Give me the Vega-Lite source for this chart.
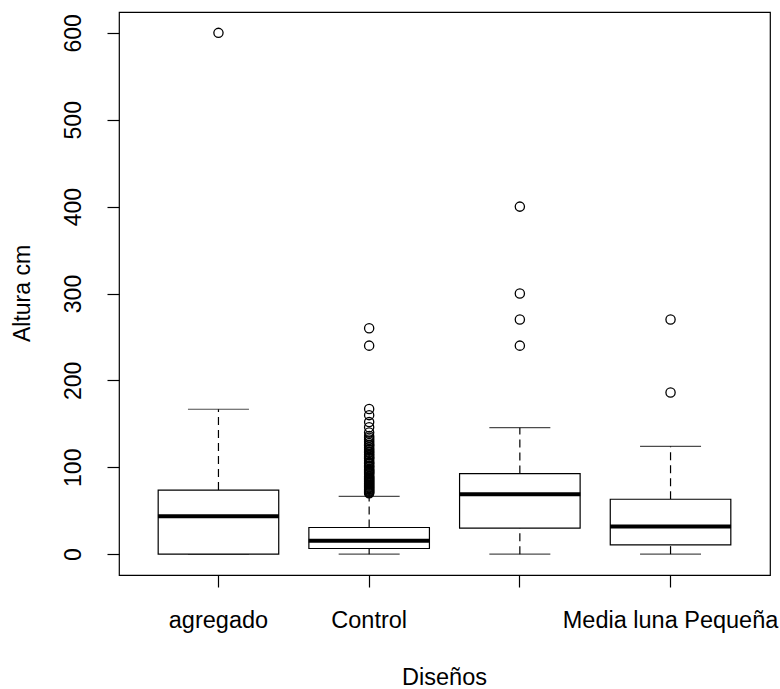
{
  "$schema": "https://vega.github.io/schema/vega-lite/v6.json",
  "width": 651,
  "height": 563,
  "autosize": {"type": "none"},
  "padding": {"left": 119, "top": 12, "right": 10, "bottom": 114},
  "background": "white",
  "datasets": {
    "boxes": [
      {"diseno": "agregado", "lower": 0, "q1": 0, "median": 43.5, "q3": 73.8, "upper": 166.8},
      {"diseno": "Control", "lower": 0, "q1": 6.5, "median": 15.3, "q3": 30.7, "upper": 66.5},
      {"diseno": "Media luna Grande", "lower": 0, "q1": 30, "median": 69, "q3": 92.7, "upper": 145.6},
      {"diseno": "Media luna Pequeña", "lower": 0, "q1": 10.7, "median": 31.8, "q3": 63.2, "upper": 124}
    ],
    "outliers": [
      {"diseno": "agregado", "altura": 600},
      {"diseno": "Control", "altura": 70},
      {"diseno": "Control", "altura": 71},
      {"diseno": "Control", "altura": 72},
      {"diseno": "Control", "altura": 73},
      {"diseno": "Control", "altura": 74},
      {"diseno": "Control", "altura": 75},
      {"diseno": "Control", "altura": 76},
      {"diseno": "Control", "altura": 77},
      {"diseno": "Control", "altura": 78},
      {"diseno": "Control", "altura": 79},
      {"diseno": "Control", "altura": 80},
      {"diseno": "Control", "altura": 81},
      {"diseno": "Control", "altura": 82},
      {"diseno": "Control", "altura": 83},
      {"diseno": "Control", "altura": 84},
      {"diseno": "Control", "altura": 85},
      {"diseno": "Control", "altura": 86},
      {"diseno": "Control", "altura": 87},
      {"diseno": "Control", "altura": 88},
      {"diseno": "Control", "altura": 89},
      {"diseno": "Control", "altura": 90},
      {"diseno": "Control", "altura": 92},
      {"diseno": "Control", "altura": 93},
      {"diseno": "Control", "altura": 94},
      {"diseno": "Control", "altura": 95},
      {"diseno": "Control", "altura": 96},
      {"diseno": "Control", "altura": 97},
      {"diseno": "Control", "altura": 98},
      {"diseno": "Control", "altura": 100},
      {"diseno": "Control", "altura": 101},
      {"diseno": "Control", "altura": 102},
      {"diseno": "Control", "altura": 104},
      {"diseno": "Control", "altura": 105},
      {"diseno": "Control", "altura": 106},
      {"diseno": "Control", "altura": 108},
      {"diseno": "Control", "altura": 110},
      {"diseno": "Control", "altura": 111},
      {"diseno": "Control", "altura": 112},
      {"diseno": "Control", "altura": 114},
      {"diseno": "Control", "altura": 115},
      {"diseno": "Control", "altura": 117},
      {"diseno": "Control", "altura": 118},
      {"diseno": "Control", "altura": 120},
      {"diseno": "Control", "altura": 121},
      {"diseno": "Control", "altura": 123},
      {"diseno": "Control", "altura": 125},
      {"diseno": "Control", "altura": 126},
      {"diseno": "Control", "altura": 128},
      {"diseno": "Control", "altura": 130},
      {"diseno": "Control", "altura": 132},
      {"diseno": "Control", "altura": 134},
      {"diseno": "Control", "altura": 136},
      {"diseno": "Control", "altura": 140},
      {"diseno": "Control", "altura": 146},
      {"diseno": "Control", "altura": 152},
      {"diseno": "Control", "altura": 160},
      {"diseno": "Control", "altura": 167},
      {"diseno": "Control", "altura": 240},
      {"diseno": "Control", "altura": 260},
      {"diseno": "Media luna Grande", "altura": 240},
      {"diseno": "Media luna Grande", "altura": 270},
      {"diseno": "Media luna Grande", "altura": 300},
      {"diseno": "Media luna Grande", "altura": 400},
      {"diseno": "Media luna Pequeña", "altura": 186},
      {"diseno": "Media luna Pequeña", "altura": 270}
    ]
  },
  "encoding": {
    "x": {
      "field": "diseno",
      "type": "nominal",
      "sort": ["agregado", "Control", "Media luna Grande", "Media luna Pequeña"],
      "scale": {"paddingInner": 0, "paddingOuter": 0.16},
      "axis": {
        "title": "Diseños",
        "labelAngle": 0,
        "labelExpr": "datum.label == 'Media luna Grande' ? '' : datum.label",
        "domain": false,
        "ticks": true,
        "tickSize": 12,
        "tickColor": "black",
        "labelPadding": 40,
        "labelBaseline": "alphabetic",
        "labelAlign": "center",
        "labelFont": "Liberation Sans",
        "labelFontSize": 23.5,
        "labelColor": "black",
        "labelLimit": 0,
        "labelOverlap": false,
        "labelBound": false,
        "labelFlush": false,
        "titleFont": "Liberation Sans",
        "titleFontSize": 23.5,
        "titleFontWeight": "normal",
        "titleColor": "black",
        "titleBaseline": "alphabetic",
        "titleX": 325,
        "titleY": 109,
        "grid": false
      }
    }
  },
  "layer": [
    {
      "data": {"name": "boxes"},
      "mark": {"type": "rule", "color": "black", "strokeWidth": 1.2, "strokeDash": [8, 5]},
      "encoding": {
        "y": {
          "field": "q3",
          "type": "quantitative",
          "scale": {"domain": [-24, 624], "nice": false, "zero": false},
          "axis": {
            "title": "Altura cm",
            "values": [0, 100, 200, 300, 400, 500, 600],
            "domain": false,
            "tickSize": 12,
            "tickColor": "black",
            "labelAngle": -90,
            "labelAlign": "center",
            "labelBaseline": "alphabetic",
            "labelPadding": 27,
            "labelFont": "Liberation Sans",
            "labelFontSize": 23,
            "labelColor": "black",
            "labelOverlap": false,
            "labelBound": false,
            "labelFlush": false,
            "titleFont": "Liberation Sans",
            "titleFontSize": 23,
            "titleFontWeight": "normal",
            "titleColor": "black",
            "titleAngle": -90,
            "titleBaseline": "alphabetic",
            "titleAlign": "center",
            "titleX": -90,
            "titleY": 281,
            "grid": false
          }
        },
        "y2": {"field": "upper"}
      }
    },
    {
      "data": {"name": "boxes"},
      "mark": {"type": "rule", "color": "black", "strokeWidth": 1.2, "strokeDash": [8, 5]},
      "encoding": {
        "y": {"field": "lower", "type": "quantitative"},
        "y2": {"field": "q1"}
      }
    },
    {
      "data": {"name": "boxes"},
      "mark": {"type": "tick", "color": "black", "size": 61, "thickness": 1.2},
      "encoding": {"y": {"field": "upper", "type": "quantitative"}}
    },
    {
      "data": {"name": "boxes"},
      "mark": {"type": "tick", "color": "black", "size": 61, "thickness": 1.2},
      "encoding": {"y": {"field": "lower", "type": "quantitative"}}
    },
    {
      "data": {"name": "boxes"},
      "mark": {"type": "bar", "fill": "white", "stroke": "black", "strokeWidth": 1.2, "width": {"band": 0.8}},
      "encoding": {
        "y": {"field": "q1", "type": "quantitative"},
        "y2": {"field": "q3"}
      }
    },
    {
      "data": {"name": "boxes"},
      "mark": {"type": "tick", "color": "black", "size": 121, "thickness": 4, "opacity": 1},
      "encoding": {"y": {"field": "median", "type": "quantitative"}}
    },
    {
      "data": {"name": "outliers"},
      "mark": {"type": "point", "shape": "circle", "filled": false, "stroke": "black", "strokeWidth": 1.3, "size": 85, "opacity": 1},
      "encoding": {"y": {"field": "altura", "type": "quantitative"}}
    }
  ],
  "config": {
    "view": {"stroke": "black", "strokeWidth": 1.2},
    "axis": {"tickWidth": 1.2}
  }
}
